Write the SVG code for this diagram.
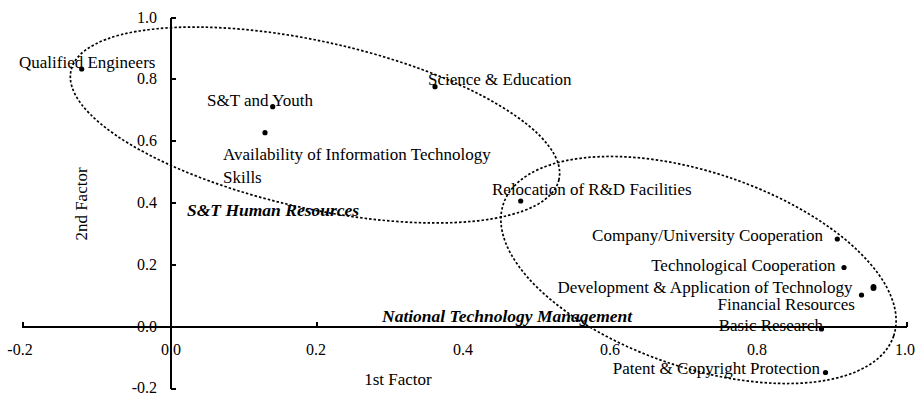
<svg xmlns="http://www.w3.org/2000/svg" width="917" height="395" viewBox="0 0 917 395">
<style>
.t{font-family:"Liberation Serif","Times New Roman",serif;font-size:17px;fill:#000}
.tk{font-family:"Liberation Serif","Times New Roman",serif;font-size:16px;fill:#000}
.g{font-family:"Liberation Serif","Times New Roman",serif;font-size:17.5px;font-weight:bold;font-style:italic;fill:#000}
.ax{stroke:#000;stroke-width:2;fill:none}
.cl{stroke:#000;stroke-width:1.7;fill:none;stroke-dasharray:2.5 2}
.d{fill:#000}
</style>
<rect width="917" height="395" fill="#fff"/>
<g id="axes">
<line class="ax" x1="22" y1="327" x2="907" y2="327"/>
<line class="ax" x1="171" y1="18" x2="171" y2="389"/>
<path class="ax" d="M23 327V322M317 327V322M907 327V322M171 18H176M171 79H176M171 141H176M171 203H176M171 265H176M171 389H176"/>
<g class="tk" text-anchor="end">
<text x="157" y="23">1.0</text>
<text x="157" y="84">0.8</text>
<text x="157" y="146">0.6</text>
<text x="157" y="208">0.4</text>
<text x="157" y="270">0.2</text>
<text x="157" y="332">0.0</text>
<text x="157" y="393">-0.2</text>
</g>
<g class="tk" text-anchor="middle">
<text x="20" y="355">-0.2</text>
<text x="171" y="355">0.0</text>
<text x="316" y="355">0.2</text>
<text x="463" y="355">0.4</text>
<text x="610" y="355">0.6</text>
<text x="757" y="355">0.8</text>
<text x="905" y="355">1.0</text>
</g>
<text class="t" x="398" y="385" text-anchor="middle">1st Factor</text>
<text class="t" transform="translate(87 204) rotate(-90)" text-anchor="middle">2nd Factor</text>
</g>
<g id="clusters">
<ellipse class="cl" cx="315" cy="125" rx="250" ry="83.4" transform="rotate(12.6 315 125)"/>
<ellipse class="cl" cx="698.5" cy="270" rx="206" ry="97.5" transform="rotate(18.7 698.5 270)"/>
<text class="g" x="187" y="216">S&amp;T Human Resources</text>
<text class="g" x="382" y="322">National Technology Management</text>
</g>
<g id="n-qualified-engineers"><circle class="d" cx="81.7" cy="69" r="2.6"/><text class="t" x="19" y="68">Qualified Engineers</text></g>
<g id="n-st-youth"><circle class="d" cx="272.7" cy="106.7" r="2.6"/><text class="t" x="207" y="106">S&amp;T and Youth</text></g>
<g id="n-availability"><circle class="d" cx="265" cy="132.7" r="2.6"/><text class="t" x="223" y="160">Availability of Information Technology</text><text class="t" x="223" y="183">Skills</text></g>
<g id="n-science-education"><circle class="d" cx="435" cy="86.7" r="2.6"/><text class="t" x="428" y="85">Science &amp; Education</text></g>
<g id="n-relocation"><circle class="d" cx="520.7" cy="201" r="2.6"/><text class="t" x="492" y="195">Relocation of R&amp;D Facilities</text></g>
<g id="n-company-university"><circle class="d" cx="837.3" cy="239" r="2.6"/><text class="t" x="823" y="241" text-anchor="end">Company/University Cooperation</text></g>
<g id="n-technological-cooperation"><circle class="d" cx="844" cy="267.5" r="2.6"/><text class="t" x="835.5" y="271" text-anchor="end">Technological Cooperation</text></g>
<g id="n-development"><circle class="d" cx="861.5" cy="295" r="2.6"/><text class="t" x="852.5" y="293" text-anchor="end">Development &amp; Application of Technology</text></g>
<g id="n-financial"><ellipse class="d" cx="873.5" cy="287.5" rx="3" ry="3.6"/><text class="t" x="855" y="310" text-anchor="end">Financial Resources</text></g>
<g id="n-basic-research"><circle class="d" cx="821.5" cy="329" r="2.6"/><text class="t" x="823" y="331" text-anchor="end">Basic Research</text></g>
<g id="n-patent"><circle class="d" cx="825.5" cy="372.5" r="2.6"/><text class="t" x="820" y="374" text-anchor="end">Patent &amp; Copyright Protection</text></g>
</svg>
